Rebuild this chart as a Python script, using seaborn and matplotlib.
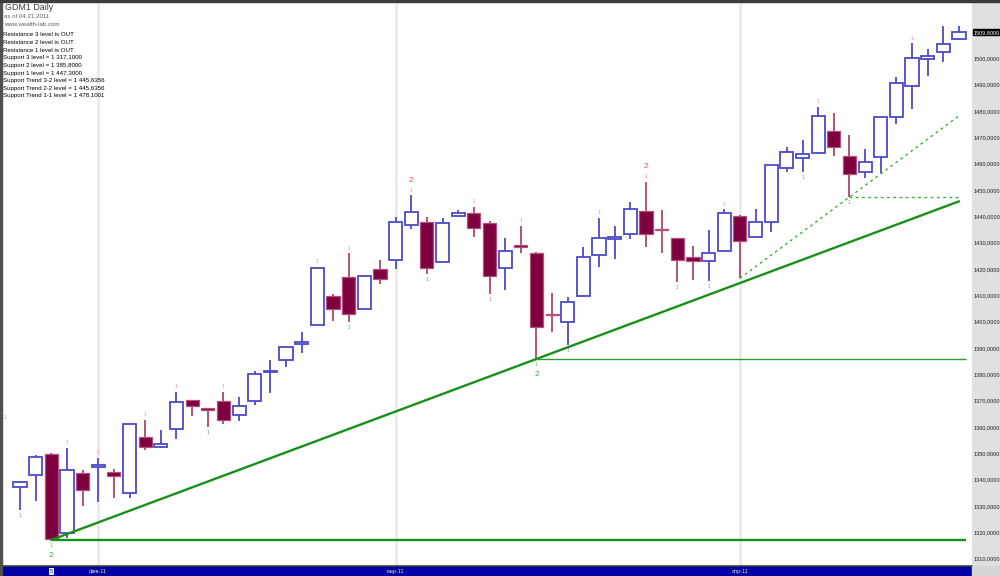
import numpy as np
import pandas as pd
import matplotlib
matplotlib.use("Agg")
import matplotlib.pyplot as plt
import matplotlib.transforms as mtrans
from matplotlib.patches import Rectangle
import seaborn as sns

# ---------------- data ----------------
opens = [1337.1, 1341.8, 1349.8, 1319.7, 1342.6, 1344.8, 1343.0, 1335.1, 1356.2, 1352.3,
         1359.1, 1370.1, 1367.1, 1369.7, 1364.4, 1370.0, 1380.8, 1385.4, 1391.5, 1398.7,
         1409.8, 1416.8, 1404.9, 1420.0, 1423.3, 1436.5, 1437.9, 1422.5, 1440.1, 1441.1,
         1437.3, 1420.2, 1429.1, 1426.1, 1402.9, 1399.8, 1409.8, 1425.3, 1431.5, 1433.1,
         1441.9, 1435.1, 1431.6, 1424.4, 1423.0, 1426.9, 1440.1, 1432.0, 1437.9, 1458.4,
         1462.1, 1464.1, 1472.3, 1463.0, 1456.7, 1462.6, 1477.5, 1489.4, 1499.6, 1502.2, 1507.1]
highs = [1339.5, 1349.2, 1350.0, 1351.9, 1343.7, 1348.1, 1343.9, 1361.2, 1362.7, 1358.9,
         1373.4, 1370.4, 1367.3, 1373.4, 1371.5, 1381.4, 1385.4, 1390.7, 1395.9, 1420.6,
         1410.4, 1425.9, 1417.5, 1423.4, 1439.8, 1447.9, 1439.8, 1439.2, 1442.2, 1443.6,
         1438.2, 1431.6, 1436.3, 1426.3, 1411.0, 1409.4, 1428.4, 1439.2, 1436.4, 1445.5,
         1453.1, 1442.3, 1431.8, 1428.7, 1434.8, 1442.6, 1440.3, 1442.6, 1459.6, 1466.4,
         1468.9, 1481.5, 1479.0, 1470.8, 1465.5, 1477.8, 1492.7, 1505.6, 1503.3, 1512.2, 1512.2]
lows = [1328.5, 1331.9, 1317.1, 1318.0, 1330.1, 1331.6, 1332.9, 1332.9, 1351.3, 1352.0,
        1355.3, 1364.2, 1360.1, 1361.0, 1362.3, 1368.5, 1373.0, 1382.9, 1388.2, 1398.5,
        1400.2, 1400.0, 1404.7, 1414.4, 1419.8, 1435.1, 1418.1, 1422.3, 1439.9, 1432.0,
        1410.5, 1412.0, 1426.1, 1385.8, 1396.2, 1391.1, 1409.6, 1420.6, 1423.8, 1431.2,
        1428.2, 1425.9, 1415.1, 1415.8, 1415.5, 1426.3, 1416.4, 1431.8, 1433.9, 1456.7,
        1456.7, 1463.9, 1462.8, 1447.3, 1454.6, 1456.3, 1475.0, 1480.7, 1493.2, 1498.5, 1506.9]
closes = [1339.0, 1348.7, 1317.6, 1343.6, 1336.0, 1345.5, 1341.5, 1361.0, 1352.5, 1353.7,
          1369.4, 1367.8, 1366.3, 1362.6, 1368.1, 1380.0, 1381.4, 1390.5, 1392.1, 1420.4,
          1404.9, 1402.9, 1417.3, 1416.3, 1437.9, 1441.5, 1420.4, 1437.5, 1441.1, 1435.4,
          1417.4, 1426.9, 1428.4, 1397.9, 1402.4, 1407.3, 1424.4, 1431.6, 1432.1, 1442.8,
          1433.2, 1434.8, 1423.4, 1423.0, 1426.1, 1441.1, 1430.7, 1437.7, 1459.4, 1464.5,
          1463.7, 1478.1, 1466.4, 1456.0, 1460.7, 1477.6, 1490.4, 1499.9, 1500.9, 1505.5, 1509.8]

month_start_bars = [5, 24, 46]
month_labels = ["фев-11", "мар-11", "апр-11"]

swing_high_1 = [3, 5, 8, 10, 13, 19, 21, 25, 29, 32, 37, 40, 45, 51, 57]
swing_high_2 = [25, 40]
swing_low_1 = [0, 2, 12, 21, 26, 30, 33, 35, 42, 44, 50, 53]
swing_low_2 = [2, 33]
offscreen_high_bar, offscreen_high_val = -1, 1361.5

# support / trend lines (bar, value)
trend_main_bars = [2, 60]
trend_main_vals = [1317.1, 1445.6356]
trend_fast_bars = [46, 60]
trend_fast_vals = [1416.4, 1478.1001]
support3 = (2, 1317.1)
support2 = (33, 1385.8)
support1 = (53, 1447.3)
last_bar = 60

ytick_vals = list(range(1310, 1501, 10))
last_price = 1509.8

info_lines = [
    "Resistance 3 level is OUT",
    "Resistance 2 level is OUT",
    "Resistance 1 level is OUT",
    "Support 3 level = 1 317,1000",
    "Support 2 level = 1 385,8000",
    "Support 1 level = 1 447,3000",
    "Support Trend 3-2 level = 1 445,6356",
    "Support Trend 2-2 level = 1 445,6356",
    "Support Trend 1-1 level = 1 478,1001",
]

# ---------------- style ----------------
sns.set_theme(style="white")
plt.rcParams["font.family"] = ["Liberation Sans", "DejaVu Sans"]

W, H = 1000, 576
fig = plt.figure(figsize=(10, 5.76), dpi=100, facecolor="#E0E0E0")


def fx(px):
    return px / W


def fy(py):
    return 1 - py / H


ax = fig.add_axes([fx(2), fy(566), fx(972) - fx(2), fy(2) - fy(566)])
ax.set_facecolor("white")
ax.set_xlim(-1.15, 60.83)
ax.set_ylim(1307.2, 1521.3)
for s in ax.spines.values():
    s.set_visible(False)

df = pd.DataFrame({"bar": np.arange(len(opens)), "open": opens, "high": highs,
                   "low": lows, "close": closes})
df["up"] = df["close"] >= df["open"]

for b in month_start_bars:
    ax.axvline(b, color="#EBEBEB", lw=2, zorder=0)

up_col = "#4B4BC9"
dn_fill = "#7E003E"
dn_edge = "#B0507C"
dn_wick = "#A8486F"

wick_cols = [up_col if u else dn_wick for u in df["up"]]
ax.vlines(df["bar"], df["low"], df["high"], colors=wick_cols, lw=1.3, zorder=2)

bw = 0.84
up = df[df["up"]]
dn = df[~df["up"]]
ax.bar(up["bar"], (up["close"] - up["open"]).clip(lower=0.5), bottom=up["open"], width=bw,
       color="white", edgecolor=up_col, lw=1.3, zorder=3)
ax.bar(dn["bar"], (dn["open"] - dn["close"]).clip(lower=0.5), bottom=dn["close"], width=bw,
       color=dn_fill, edgecolor=dn_edge, lw=0.9, zorder=3)

# trend / support lines
green = "#179017"
lg = "#3DAE3D"
tl = pd.DataFrame({"bar": trend_main_bars, "val": trend_main_vals})
sns.lineplot(data=tl, x="bar", y="val", ax=ax, color=green, lw=1.7, zorder=4)
tf = pd.DataFrame({"bar": trend_fast_bars, "val": trend_fast_vals})
sns.lineplot(data=tf, x="bar", y="val", ax=ax, color=lg, lw=1.0, linestyle=(0, (2, 2.5)), zorder=4)
ax.set_xlabel("")
ax.set_ylabel("")
ax.hlines(support3[1], support3[0], last_bar + 0.45, color=green, lw=1.7, zorder=4)
ax.hlines(support2[1], support2[0], last_bar + 0.45, color="#2E9E2E", lw=1.0, zorder=4)
ax.hlines(support1[1], support1[0], last_bar, color=lg, lw=1.0, linestyles=[(0, (2, 2.5))], zorder=4)

# swing labels
for b in swing_high_1:
    ax.annotate("1", (b, highs[b]), xytext=(0, 3.8), textcoords="offset points",
                ha="center", va="center", fontsize=3.6, color="#F08A8A", zorder=5)
for b in swing_high_2:
    ax.annotate("2", (b, highs[b]), xytext=(0, 10.8), textcoords="offset points",
                ha="center", va="center", fontsize=6, color="#EE5555", zorder=5)
for b in swing_low_1:
    ax.annotate("1", (b, lows[b]), xytext=(0, -4.0), textcoords="offset points",
                ha="center", va="center", fontsize=3.6, color="#6AAA6A", zorder=5)
for b in swing_low_2:
    ax.annotate("2", (b, lows[b]), xytext=(0, -11.2), textcoords="offset points",
                ha="center", va="center", fontsize=6, color="#3FA03F", zorder=5)
ax.annotate("1", (offscreen_high_bar, offscreen_high_val), xytext=(0.6, 3.8), textcoords="offset points",
            ha="center", va="center", fontsize=3.6, color="#F08A8A", zorder=5)

# right axis labels
ax.set_xticks([])
ax.yaxis.tick_right()
ax.set_yticks(ytick_vals)
ax.set_yticklabels([f"{v},0000" for v in ytick_vals])
ax.tick_params(axis="y", length=0, pad=1.0, labelsize=4.0, labelcolor="#202020")
trans = mtrans.blended_transform_factory(ax.transAxes, ax.transData)
ax.text(1.0015, last_price, f"{last_price:.1f}".replace(".", ",") + "000", transform=trans,
        ha="left", va="center", fontsize=4.0, color="white",
        bbox=dict(boxstyle="square,pad=0.12", fc="black", ec="black"), zorder=6, clip_on=False)

# bottom strip
axb = fig.add_axes([fx(2), 0, fx(972) - fx(2), fy(566)], sharex=ax)
axb.set_facecolor("#0000A6")
axb.set_xticks([])
axb.set_yticks([])
for k, s in axb.spines.items():
    s.set_visible(k == "top")
axb.spines["top"].set_color("#404040")
axb.spines["top"].set_linewidth(1.2)
axb.set_ylim(0, 1)
for b, lab in zip(month_start_bars, month_labels):
    axb.text(b, 0.45, lab, ha="center", va="center", fontsize=4.0, color="#E6E0A6")
axb.text(2, 0.45, "5", ha="center", va="center", fontsize=4.2, color="#203080",
         bbox=dict(boxstyle="square,pad=0.1", fc="#E8F0F0", ec="none"))

# frame decorations
fig.patches.append(Rectangle((0, 0), fx(2), 1, transform=fig.transFigure, color="#505050", zorder=10))
fig.patches.append(Rectangle((0, fy(1.5)), 1, 1 - fy(1.5), transform=fig.transFigure, color="#3C3C3C", zorder=10))
fig.patches.append(Rectangle((fx(972), 0), fx(1000) - fx(972), fy(566), transform=fig.transFigure,
                             color="#D6D6D6", zorder=10))

# header texts
fig.text(fx(5), fy(8), "GDM1 Daily", fontsize=6.4, color="#404040", va="center", ha="left")
fig.text(fx(4.5), fy(16), "as of 04.21.2011", fontsize=4.4, color="#606060", va="center", ha="left")
fig.text(fx(4.5), fy(24), "www.wealth-lab.com", fontsize=4.4, color="#606060", va="center", ha="left")
for i, line in enumerate(info_lines):
    fig.text(fx(2.8), fy(35 + i * 7.6), line, fontsize=4.4, color="black", va="center", ha="left")

fig.savefig("out.png", dpi=100, facecolor=fig.get_facecolor())
